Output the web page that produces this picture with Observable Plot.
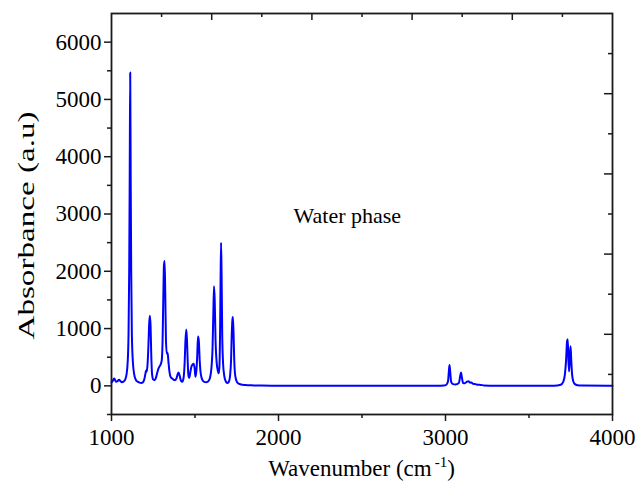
<!DOCTYPE html>
<html><head><meta charset="utf-8">
<script src="https://cdn.jsdelivr.net/npm/d3@7"></script>
<script src="https://cdn.jsdelivr.net/npm/@observablehq/plot@0.6"></script>
<style>body{margin:0;background:#fff} svg{display:block}</style>
</head><body><div id="chart"></div>
<script>
const wavenumber = [1000,1006,1012,1017,1023,1029,1037,1045,1053,1062,1072,1082,1090,1097,1102,1106,1109,1112,1115,1118,1122,1128,1136,1145,1155,1165,1178,1188,1196,1203,1207,1211,1216,1221,1226,1230,1234,1238,1243,1250,1258,1266,1274,1281,1288,1295,1301,1306,1310,1314,1318,1322,1326,1331,1336,1341,1347,1355,1363,1371,1380,1389,1396,1402,1408,1416,1424,1432,1438,1443,1448,1452,1456,1460,1465,1471,1478,1485,1492,1498,1503,1508,1513,1518,1523,1528,1535,1545,1555,1568,1580,1590,1598,1605,1610,1614,1618,1623,1630,1637,1642,1646,1650,1653,1656,1659,1663,1668,1675,1684,1693,1702,1710,1716,1720,1724,1727,1731,1735,1740,1748,1758,1775,1800,1850,1900,2000,2500,2950,2990,3005,3015,3020,3024,3028,3034,3045,3060,3080,3088,3093,3098,3105,3115,3130,3138,3147,3155,3165,3180,3195,3210,3230,3300,3650,3690,3705,3715,3722,3728,3732,3736,3740,3745,3749,3753,3758,3765,3775,3790,3820,4000];
const absorbance = [60,80,115,130,90,70,85,105,85,65,75,110,200,420,900,2000,3600,5470,3600,2000,900,420,200,110,75,60,50,60,110,210,270,250,380,700,1100,1225,1050,550,200,110,100,140,230,300,340,380,450,800,1500,2100,2180,1600,800,560,580,420,250,150,130,110,100,130,200,235,180,90,70,150,400,800,985,800,450,200,140,220,330,370,385,300,160,250,500,860,780,450,200,100,70,65,80,140,300,650,1300,1740,1500,800,400,260,220,320,900,1800,2500,2000,900,400,180,80,50,70,180,450,900,1150,1200,900,450,200,90,45,25,15,8,5,3,2,2,5,20,80,250,366,250,70,30,25,50,170,232,150,50,45,75,80,55,60,35,30,18,17,8,3,3,20,70,200,450,780,813,450,250,560,690,450,200,80,30,12,5,2];

const xMajorTicks = [1000, 2000, 3000, 4000];
const xMinorTicks = [1500, 2500, 3500];
const yMajorTicks = [0, 1000, 2000, 3000, 4000, 5000, 6000];
const yMinorTicks = [-500, 500, 1500, 2500, 3500, 4500, 5500];
const topMajorTicks = [1600, 2200, 2800, 3400];
const topMinorTicks = [1300, 1900, 2500, 3100, 3700];
const rightMajorTicks = [900, 2300, 3700, 5100];
const rightMinorTicks = [200, 1600, 3000, 4400, 5800];
const annotations = [{x: 2090, y: 2960, text: "Water phase"}];
const xLabel = "Wavenumber (cm";
const yLabel = "Absorbance (a.u)";

const spectrum = wavenumber.map((w, i) => ({w, a: absorbance[i]}));

const W = 635, H = 492;
const margin = {top: 13, right: 23, bottom: 78, left: 111};
const innerW = W - margin.left - margin.right;
const innerH = H - margin.top - margin.bottom;
const ink = "#1a1a1a";
const font = "'Liberation Serif', 'Times New Roman', serif";
const plain = d => String(d);

const chart = Plot.plot({
  width: W, height: H,
  marginTop: margin.top, marginRight: margin.right, marginBottom: margin.bottom, marginLeft: margin.left,
  style: {fontFamily: font, fontSize: "23px", color: "#000", background: "#fff"},
  x: {domain: [1000, 4000]},
  y: {domain: [-500, 6500]},
  marks: [
    Plot.axisX(xMajorTicks, {anchor: "bottom", tickSize: 7, tickPadding: 7, strokeWidth: 1.5, stroke: ink, fontSize: 23, tickFormat: plain, label: null}),
    Plot.axisX(xMinorTicks, {anchor: "bottom", tickSize: 4, strokeWidth: 1.5, stroke: ink, tickFormat: () => "", label: null}),
    Plot.axisY(yMajorTicks, {anchor: "left", tickSize: 7, tickPadding: 3, strokeWidth: 1.5, stroke: ink, fontSize: 23, tickFormat: plain, label: null}),
    Plot.axisY(yMinorTicks, {anchor: "left", tickSize: 4, strokeWidth: 1.5, stroke: ink, tickFormat: () => "", label: null}),
    Plot.tickX(topMajorTicks, {x: d => d, insetBottom: innerH - 7, stroke: ink, strokeWidth: 1.5}),
    Plot.tickX(topMinorTicks, {x: d => d, insetBottom: innerH - 4, stroke: ink, strokeWidth: 1.5}),
    Plot.tickY(rightMajorTicks, {y: d => d, insetLeft: innerW - 8, stroke: ink, strokeWidth: 1.5}),
    Plot.tickY(rightMinorTicks, {y: d => d, insetLeft: innerW - 4, stroke: ink, strokeWidth: 1.5}),
    Plot.line(spectrum, {x: "w", y: "a", stroke: "#0000ff", strokeWidth: 2, curve: "monotone-x"}),
    Plot.text(annotations, {x: "x", y: "y", text: "text", textAnchor: "start", fontSize: 22, fill: "#000"}),
    Plot.frame({stroke: ink, strokeWidth: 1.8})
  ]
});

const svg = d3.select(chart);
svg.append("text")
  .attr("x", margin.left + innerW / 2).attr("y", 476)
  .attr("text-anchor", "middle").attr("font-family", font).attr("font-size", 23).attr("fill", "#000")
  .call(t => {
    t.append("tspan").text(xLabel);
    t.append("tspan").attr("dy", -9).attr("font-size", 15).attr("dx", 3).text("-1");
    t.append("tspan").attr("dy", 9).text(")");
  });
svg.append("text")
  .attr("transform", `translate(34,${margin.top + innerH / 2 + 12}) rotate(-90)`)
  .attr("text-anchor", "middle").attr("font-family", font).attr("font-size", 23).attr("fill", "#000")
  .attr("textLength", 228).attr("lengthAdjust", "spacingAndGlyphs")
  .text(yLabel);

document.getElementById("chart").appendChild(chart);
</script></body></html>
